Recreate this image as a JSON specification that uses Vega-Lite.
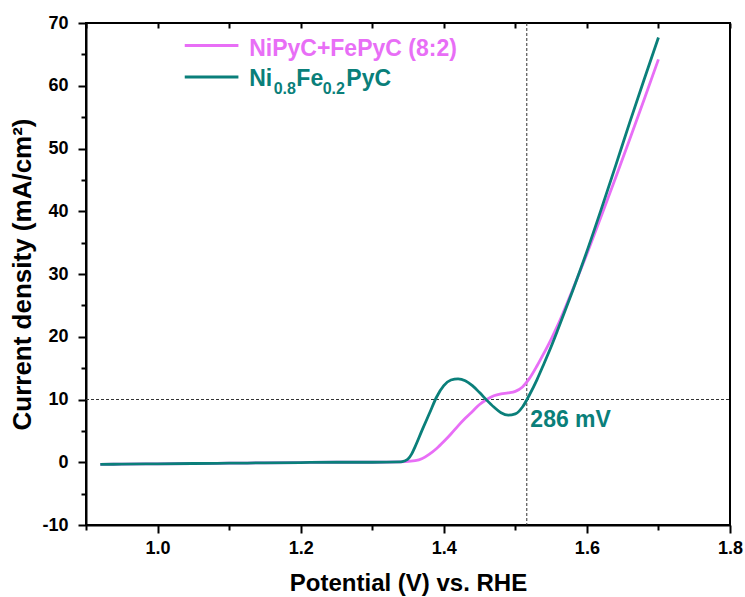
{
  "$schema": "https://vega.github.io/schema/vega-lite/v6.json",
  "autosize": {"type": "none"},
  "width": 644,
  "height": 502,
  "padding": {"left": 86, "top": 23, "right": 15, "bottom": 72},
  "background": "white",
  "view": {"stroke": "black", "strokeWidth": 2},
  "config": {
    "font": "Liberation Sans",
    "axis": {
      "labelFont": "Liberation Sans", "labelFontWeight": "bold", "labelFontSize": 18, "labelColor": "black",
      "titleFont": "Liberation Sans", "titleFontWeight": "bold", "titleFontSize": 24, "titleColor": "black",
      "domainColor": "black", "domainWidth": 2, "tickColor": "black", "tickWidth": 2, "grid": false
    }
  },
  "datasets": {
    "curves": [
      {"series": "P", "v": 0.92, "j": -0.35}, {"series": "P", "v": 0.95, "j": -0.3}, {"series": "P", "v": 1.0, "j": -0.25},
      {"series": "P", "v": 1.05, "j": -0.2}, {"series": "P", "v": 1.1, "j": -0.15}, {"series": "P", "v": 1.15, "j": -0.1},
      {"series": "P", "v": 1.2, "j": -0.05}, {"series": "P", "v": 1.25, "j": 0}, {"series": "P", "v": 1.3, "j": 0},
      {"series": "P", "v": 1.34, "j": 0.05}, {"series": "P", "v": 1.36, "j": 0.25}, {"series": "P", "v": 1.37, "j": 0.6},
      {"series": "P", "v": 1.38, "j": 1.3}, {"series": "P", "v": 1.39, "j": 2.2}, {"series": "P", "v": 1.4, "j": 3.3},
      {"series": "P", "v": 1.41, "j": 4.5}, {"series": "P", "v": 1.42, "j": 5.8}, {"series": "P", "v": 1.43, "j": 7.0},
      {"series": "P", "v": 1.44, "j": 8.1}, {"series": "P", "v": 1.45, "j": 9.2}, {"series": "P", "v": 1.46, "j": 10.0},
      {"series": "P", "v": 1.47, "j": 10.6}, {"series": "P", "v": 1.48, "j": 10.9}, {"series": "P", "v": 1.49, "j": 11.05},
      {"series": "P", "v": 1.5, "j": 11.3}, {"series": "P", "v": 1.51, "j": 12.0}, {"series": "P", "v": 1.52, "j": 13.4},
      {"series": "P", "v": 1.53, "j": 15.3}, {"series": "P", "v": 1.54, "j": 17.4}, {"series": "P", "v": 1.55, "j": 19.6},
      {"series": "P", "v": 1.56, "j": 22.0}, {"series": "P", "v": 1.58, "j": 27.5}, {"series": "P", "v": 1.6, "j": 33.2},
      {"series": "P", "v": 1.62, "j": 39.2}, {"series": "P", "v": 1.64, "j": 45.3}, {"series": "P", "v": 1.66, "j": 51.5},
      {"series": "P", "v": 1.68, "j": 57.8}, {"series": "P", "v": 1.7, "j": 64.2},
      {"series": "T", "v": 0.92, "j": -0.35}, {"series": "T", "v": 0.95, "j": -0.3}, {"series": "T", "v": 1.0, "j": -0.25},
      {"series": "T", "v": 1.05, "j": -0.2}, {"series": "T", "v": 1.1, "j": -0.15}, {"series": "T", "v": 1.15, "j": -0.1},
      {"series": "T", "v": 1.2, "j": -0.05}, {"series": "T", "v": 1.25, "j": 0}, {"series": "T", "v": 1.3, "j": 0},
      {"series": "T", "v": 1.34, "j": 0.05}, {"series": "T", "v": 1.345, "j": 0.2}, {"series": "T", "v": 1.35, "j": 0.5},
      {"series": "T", "v": 1.355, "j": 1.3}, {"series": "T", "v": 1.36, "j": 2.5}, {"series": "T", "v": 1.37, "j": 5.2},
      {"series": "T", "v": 1.38, "j": 7.8}, {"series": "T", "v": 1.39, "j": 10.4}, {"series": "T", "v": 1.4, "j": 12.2},
      {"series": "T", "v": 1.41, "j": 13.1}, {"series": "T", "v": 1.42, "j": 13.3}, {"series": "T", "v": 1.43, "j": 13.0},
      {"series": "T", "v": 1.44, "j": 12.2}, {"series": "T", "v": 1.45, "j": 11.1}, {"series": "T", "v": 1.46, "j": 9.9},
      {"series": "T", "v": 1.47, "j": 8.8}, {"series": "T", "v": 1.48, "j": 7.9}, {"series": "T", "v": 1.49, "j": 7.5},
      {"series": "T", "v": 1.5, "j": 7.7}, {"series": "T", "v": 1.51, "j": 8.8}, {"series": "T", "v": 1.52, "j": 10.8},
      {"series": "T", "v": 1.53, "j": 13.1}, {"series": "T", "v": 1.54, "j": 15.7}, {"series": "T", "v": 1.55, "j": 18.4},
      {"series": "T", "v": 1.56, "j": 21.3}, {"series": "T", "v": 1.58, "j": 27.3}, {"series": "T", "v": 1.6, "j": 33.6},
      {"series": "T", "v": 1.62, "j": 40.3}, {"series": "T", "v": 1.64, "j": 47.2}, {"series": "T", "v": 1.66, "j": 54.2},
      {"series": "T", "v": 1.68, "j": 61.0}, {"series": "T", "v": 1.7, "j": 67.7}
    ],
    "legendLines": [
      {"series": "P", "x": 1.038, "x2": 1.113, "y": 66.4},
      {"series": "T", "x": 1.038, "x2": 1.113, "y": 61.4}
    ],
    "legendText": [
      {"series": "P", "x": 1.128, "y": 64.8, "t": "NiPyC+FePyC (8:2)", "size": 23},
      {"series": "T", "x": 1.128, "y": 60.0, "t": "Ni", "size": 23},
      {"series": "T", "x": 1.1623, "y": 58.7, "t": "0.8", "size": 16},
      {"series": "T", "x": 1.194, "y": 60.0, "t": "Fe", "size": 23},
      {"series": "T", "x": 1.2307, "y": 58.7, "t": "0.2", "size": 16},
      {"series": "T", "x": 1.2638, "y": 60.0, "t": "PyC", "size": 23},
      {"series": "T", "x": 1.521, "y": 5.6, "t": "286 mV", "size": 23}
    ]
  },
  "layer": [
    {
      "data": {"values": [{"y": 10}]},
      "mark": {"type": "rule", "color": "#333333", "strokeWidth": 1, "strokeDash": [3, 2]},
      "encoding": {
        "y": {"field": "y", "type": "quantitative", "scale": {"domain": [-10, 70]},
          "axis": null},
        "x": {"value": 0},
        "x2": {"value": 644}
      }
    },
    {
      "data": {"values": [{"x": 1.516}]},
      "mark": {"type": "rule", "color": "#333333", "strokeWidth": 1, "strokeDash": [3, 2]},
      "encoding": {
        "x": {"field": "x", "type": "quantitative", "scale": {"domain": [0.9, 1.8]},
          "axis": {"orient": "top", "values": [0.9, 1.0, 1.1, 1.2, 1.3, 1.4, 1.5, 1.6, 1.7, 1.8], "labels": false, "domain": false, "tickSize": -5, "title": null}}
      }
    },
    {
      "data": {"name": "curves"},
      "mark": {"type": "line", "strokeWidth": 2.8, "interpolate": "monotone"},
      "encoding": {
        "x": {"field": "v", "type": "quantitative", "scale": {"domain": [0.9, 1.8], "nice": false, "zero": false},
          "axis": {"orient": "bottom", "title": "Potential (V) vs. RHE",
            "values": [0.9, 1.0, 1.1, 1.2, 1.3, 1.4, 1.5, 1.6, 1.7, 1.8],
            "labelExpr": "round(datum.value*10) % 2 == 0 ? format(datum.value, '.1f') : ''",
            "tickSize": {"condition": {"test": "round(datum.value*10) % 2 == 0", "value": 8}, "value": 5},
            "labelPadding": 6, "titlePadding": 14, "labelFlush": false, "labelOverlap": false}},
        "y": {"field": "j", "type": "quantitative", "scale": {"domain": [-10, 70], "nice": false, "zero": false},
          "axis": {"title": "Current density (mA/cm²)", "titleFontSize": 26,
            "values": [-10, -5, 0, 5, 10, 15, 20, 25, 30, 35, 40, 45, 50, 55, 60, 65, 70],
            "labelExpr": "datum.value % 10 == 0 ? datum.value : ''",
            "tickSize": {"condition": {"test": "datum.value % 10 == 0", "value": 8}, "value": 5},
            "labelPadding": 10, "titlePadding": 6, "labelFlush": false, "labelOverlap": false}},
        "color": {"field": "series", "type": "nominal", "scale": {"domain": ["P", "T"], "range": ["#E86EF6", "#0A7F7A"]}, "legend": null}
      }
    },
    {
      "data": {"name": "legendLines"},
      "mark": {"type": "rule", "strokeWidth": 3},
      "encoding": {
        "x": {"field": "x", "type": "quantitative", "axis": null},
        "x2": {"field": "x2"},
        "y": {"field": "y", "type": "quantitative", "axis": null},
        "color": {"field": "series", "type": "nominal", "legend": null}
      }
    },
    {
      "data": {"name": "legendText"},
      "mark": {"type": "text", "align": "left", "baseline": "alphabetic", "fontWeight": "bold", "font": "Liberation Sans"},
      "encoding": {
        "x": {"field": "x", "type": "quantitative", "axis": null},
        "y": {"field": "y", "type": "quantitative", "axis": null},
        "text": {"field": "t"},
        "size": {"field": "size", "type": "quantitative", "scale": null, "legend": null},
        "color": {"field": "series", "type": "nominal", "legend": null}
      }
    }
  ],
  "resolve": {"axis": {"x": "independent", "y": "independent"}}
}
